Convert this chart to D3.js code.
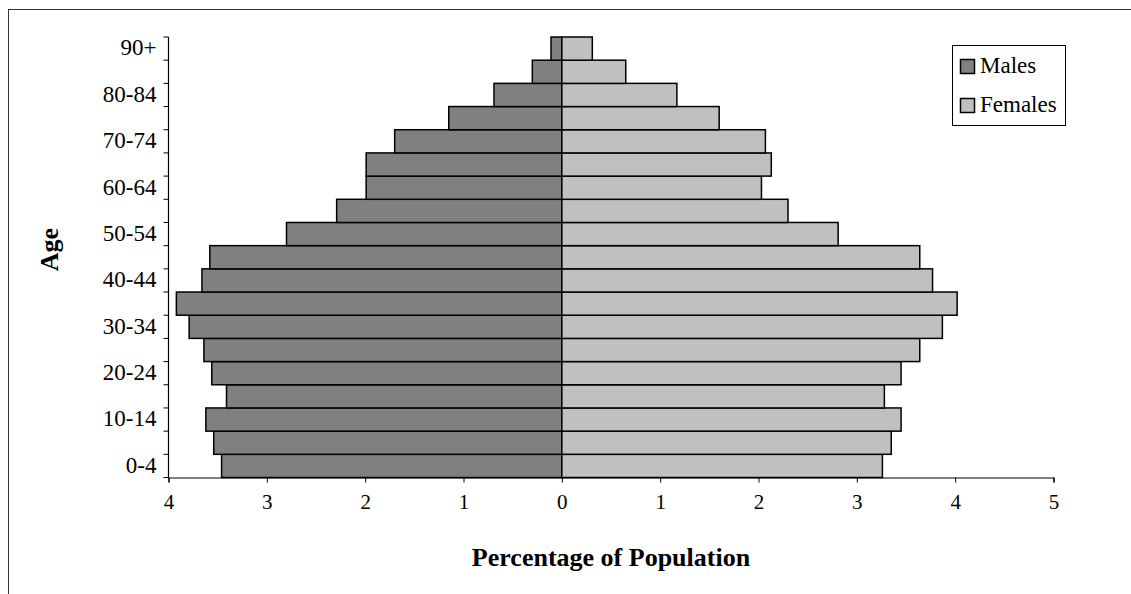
<!DOCTYPE html>
<html>
<head>
<meta charset="utf-8">
<script src="https://cdn.jsdelivr.net/npm/d3@7"></script>
<style>
  html, body { margin: 0; padding: 0; background: #fff; }
  svg { display: block; }
  text { font-family: "Liberation Serif", "Times New Roman", serif; fill: #000; }
</style>
</head>
<body>
<svg id="chart" width="1131" height="594"></svg>
<script>
// Age groups, youngest first
const ageGroups = ["0-4","5-9","10-14","15-19","20-24","25-29","30-34","35-39","40-44",
  "45-49","50-54","55-59","60-64","65-69","70-74","75-79","80-84","85-89","90+"];

// Share of total population (%) in each age group
const males   = [3.46, 3.54, 3.62, 3.41, 3.56, 3.64, 3.79, 3.92, 3.66,
                 3.58, 2.80, 2.29, 1.99, 1.99, 1.70, 1.15, 0.69, 0.30, 0.11];
const females = [3.26, 3.35, 3.45, 3.28, 3.45, 3.64, 3.87, 4.02, 3.77,
                 3.64, 2.81, 2.30, 2.03, 2.13, 2.07, 1.60, 1.17, 0.65, 0.31];

const xTicks = [-4, -3, -2, -1, 0, 1, 2, 3, 4, 5];
const seriesNames = ["Males", "Females"];
const seriesColors = ["#808080", "#c0c0c0"];

const svg = d3.select("#chart");

// outer frame
svg.append("rect")
  .attr("x", 8.5).attr("y", 9.5)
  .attr("width", 1140).attr("height", 600)
  .attr("fill", "none").attr("stroke", "#333").attr("stroke-width", 1);

const plotLeft = 168.5, plotRight = 1053.5, plotTop = 37, plotBottom = 477.5;

const x = d3.scaleLinear().domain([-4, 5]).range([plotLeft, plotRight]);
const y = d3.scaleBand().domain(ageGroups.slice().reverse()).range([plotTop, plotBottom]).padding(0);

const rows = ageGroups.map((g, i) => ({ group: g, male: males[i], female: females[i] }));

// bars
const barG = svg.append("g");
barG.selectAll("rect.male").data(rows).join("rect")
  .attr("class", "male")
  .attr("x", d => x(-d.male))
  .attr("y", d => y(d.group))
  .attr("width", d => x(0) - x(-d.male))
  .attr("height", y.bandwidth())
  .attr("fill", seriesColors[0])
  .attr("stroke", "#000").attr("stroke-width", 1.5);

barG.selectAll("rect.female").data(rows).join("rect")
  .attr("class", "female")
  .attr("x", x(0))
  .attr("y", d => y(d.group))
  .attr("width", d => x(d.female) - x(0))
  .attr("height", y.bandwidth())
  .attr("fill", seriesColors[1])
  .attr("stroke", "#000").attr("stroke-width", 1.5);

// x axis
const xAxis = svg.append("g")
  .attr("transform", `translate(0,${plotBottom})`)
  .call(d3.axisBottom(x).tickValues(xTicks).tickFormat(d => Math.abs(d)).tickSize(5).tickPadding(12));
xAxis.select(".domain").attr("stroke", "#000").attr("stroke-width", 1.2);
xAxis.selectAll(".tick line").attr("stroke", "#000");
xAxis.selectAll(".tick text")
  .style("font-family", '"Liberation Serif", serif')
  .style("font-size", "21px").attr("fill", "#000");

// y axis: ticks on band boundaries, labels on every other group
const yG = svg.append("g");
yG.append("line")
  .attr("x1", plotLeft).attr("x2", plotLeft)
  .attr("y1", plotTop).attr("y2", plotBottom)
  .attr("stroke", "#000").attr("stroke-width", 1.2);
const boundaries = ageGroups.map(g => y(g)).concat([y(ageGroups[0]) + y.bandwidth()]);
yG.selectAll("line.tick").data(boundaries).join("line")
  .attr("class", "tick")
  .attr("x1", plotLeft - 5).attr("x2", plotLeft)
  .attr("y1", d => d).attr("y2", d => d)
  .attr("stroke", "#000");
yG.selectAll("text").data(ageGroups.filter((g, i) => i % 2 === 0)).join("text")
  .attr("x", plotLeft - 12)
  .attr("y", d => y(d) + y.bandwidth() / 2)
  .attr("dy", "0.3em")
  .attr("text-anchor", "end")
  .style("font-size", "23px")
  .text(d => d);

// axis titles
svg.append("text")
  .attr("x", 611).attr("y", 566)
  .attr("text-anchor", "middle")
  .style("font-size", "26px").style("font-weight", "bold")
  .text("Percentage of Population");

svg.append("text")
  .attr("transform", "translate(58,249.5) rotate(-90)")
  .attr("text-anchor", "middle")
  .style("font-size", "26px").style("font-weight", "bold")
  .text("Age");

// legend
const lg = svg.append("g");
lg.append("rect")
  .attr("x", 952.5).attr("y", 45.5).attr("width", 113).attr("height", 80)
  .attr("fill", "#fff").attr("stroke", "#000").attr("stroke-width", 1);
const items = lg.selectAll("g.item").data(seriesNames).join("g")
  .attr("class", "item")
  .attr("transform", (d, i) => `translate(960,${59 + i * 39})`);
items.append("rect")
  .attr("x", 0.5).attr("y", 0.5).attr("width", 14).attr("height", 14)
  .attr("fill", (d, i) => seriesColors[i])
  .attr("stroke", "#000").attr("stroke-width", 1.5);
items.append("text")
  .attr("x", 20).attr("y", 14)
  .style("font-size", "23px")
  .text(d => d);
</script>
</body>
</html>
